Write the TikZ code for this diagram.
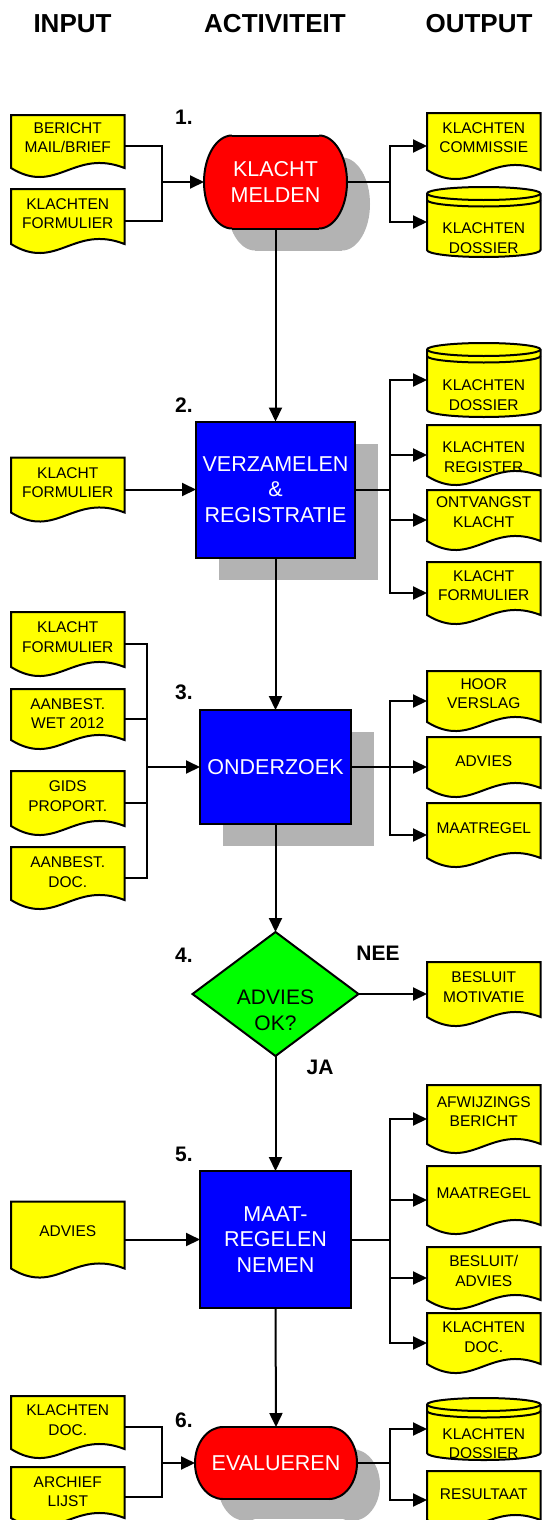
\documentclass[tikz,border=0pt]{standalone}
\usepackage{fontspec}
\setmainfont{Liberation Sans}
\usetikzlibrary{arrows.meta,shapes.geometric,shadows}
\definecolor{docy}{HTML}{FFFF00}
\definecolor{tred}{HTML}{FF0000}
\definecolor{pblue}{HTML}{0000FF}
\definecolor{dgreen}{HTML}{00FF00}
\definecolor{shadowc}{HTML}{B3B3B3}
\tikzset{
 shp/.style={draw=black, line width=2pt, line join=miter},
 cl/.style={draw=black, line width=2pt},
 arr/.style={cl, -{Triangle[length=14pt,width=13pt]}},
 anc/.style={rectangle, inner sep=0pt, outer sep=0pt},
 doctxt/.style={inner sep=0pt, align=center, font=\fontsize{15.5}{19.5}\selectfont},
 acttxt/.style={align=center, font=\fontsize{21.5}{25.5}\selectfont},
 pbox/.style={rectangle, shp, fill=pblue, text=white, acttxt, inner sep=0pt, outer sep=0pt},
 boxshadow/.style={drop shadow={shadow xshift=23pt, shadow yshift=-22pt, fill=shadowc, opacity=1}},
 hdr/.style={font=\fontsize{26}{30}\selectfont\bfseries, inner sep=0pt},
 num/.style={font=\fontsize{21}{25}\selectfont\bfseries, inner sep=0pt, anchor=west},
 lbl/.style={font=\fontsize{21}{25}\selectfont\bfseries, inner sep=0pt},
 term/.style={rounded rectangle, inner sep=0pt, outer sep=0pt},
}
% document shape: name, left x, centre y, height, text dy, text
\newcommand\Doc[6]{%
 \pgfmathsetmacro\dL{#2}%
 \pgfmathsetmacro\dR{#2+113.5}%
 \pgfmathsetmacro\dTop{#3-#4/2}%
 \pgfmathsetmacro\dS{#3+#4/2-9}%
 \pgfmathsetmacro\dA{#2+0.55*113.5}%
 \pgfmathsetmacro\dB{#2+0.4*113.5}%
 \pgfmathsetmacro\dU{\dS-20}%
 \pgfmathsetmacro\dD{\dS+28}%
 \pgfmathsetmacro\dC{#2+56.75}%
 \pgfmathsetmacro\dT{#3+#5}%
 \draw[shp,fill=docy] (\dL,\dTop) -- (\dR,\dTop) -- (\dR,\dS) .. controls (\dA,\dU) and (\dB,\dD) .. (\dL,\dS) -- cycle;
 \node[anc,minimum width=113.5pt,minimum height=#4pt] (#1) at (\dC,#3) {};
 \node[doctxt] (#1t) at (\dC,\dT) {#6};
}
% cylinder: name, left x, top, bottom, text centre y, text
\newcommand\Cyl[6]{%
 \pgfmathsetmacro\cL{#2}%
 \pgfmathsetmacro\cR{#2+113.5}%
 \pgfmathsetmacro\cC{#2+56.75}%
 \pgfmathsetmacro\cA{#3+6.5}%
 \pgfmathsetmacro\cB{#3+13}%
 \pgfmathsetmacro\cE{#4-7}%
 \pgfmathsetmacro\cM{(#3+#4)/2}%
 \pgfmathsetmacro\cH{#4-#3}%
 \fill[docy] (\cL,\cA) arc[start angle=180,end angle=0,x radius=56.75pt,y radius=6.5pt] -- (\cR,\cE) arc[start angle=0,end angle=-180,x radius=56.75pt,y radius=7pt] -- cycle;
 \begin{scope}
  \clip (\cL,\cA) arc[start angle=180,end angle=0,x radius=56.75pt,y radius=6.5pt] -- (\cR,\cE) arc[start angle=0,end angle=-180,x radius=56.75pt,y radius=7pt] -- cycle;
  \node[doctxt] (#1t) at (\cC,#5) {#6};
 \end{scope}
 \draw[shp] (\cL,\cA) arc[start angle=180,end angle=0,x radius=56.75pt,y radius=6.5pt] -- (\cR,\cE) arc[start angle=0,end angle=-180,x radius=56.75pt,y radius=7pt] -- cycle;
 \draw[shp] (\cL,\cA) arc[start angle=180,end angle=360,x radius=56.75pt,y radius=6.5pt];
 \draw[shp] (\cL,\cB) arc[start angle=180,end angle=360,x radius=56.75pt,y radius=6.5pt];
 \node[anc,minimum width=113.5pt,minimum height=\cH pt] (#1) at (\cC,\cM) {};
}
% terminal: name, cx, cy, w, h, text
\newcommand\Term[6]{%
 \pgfmathsetmacro\tL{#2-#4/2+28}%
 \pgfmathsetmacro\tR{#2+#4/2-28}%
 \pgfmathsetmacro\tT{#3-#5/2}%
 \pgfmathsetmacro\tBt{#3+#5/2}%
 \pgfmathsetmacro\tY{#3}%
 \pgfmathsetmacro\sL{#2-#4/2+28+23}%
 \pgfmathsetmacro\sR{#2+#4/2-28+23}%
 \pgfmathsetmacro\sT{#3-#5/2+22}%
 \pgfmathsetmacro\sBt{min(#3+#5/2+22,1519)}%
 \pgfmathsetmacro\sY{#3+22}%
 \pgfmathsetmacro\tRy{#5/2}%
 \begin{scope}
 \clip (0,0) rectangle (541,1519);
 \fill[shadowc] (\sL,\sT) rectangle (\sR,\sBt);
 \fill[shadowc] (\sL,\sY) ellipse [x radius=28pt, y radius=\tRy pt];
 \fill[shadowc] (\sR,\sY) ellipse [x radius=28pt, y radius=\tRy pt];
 \end{scope}
 \fill[tred] (\tL,\tT) rectangle (\tR,\tBt);
 \fill[tred] (\tL,\tY) ellipse [x radius=28pt, y radius=\tRy pt];
 \fill[tred] (\tR,\tY) ellipse [x radius=28pt, y radius=\tRy pt];
 \draw[shp] (\tL,\tT) -- (\tR,\tT);
 \draw[shp] (\tL,\tBt) -- (\tR,\tBt);
 \draw[shp] (\tR,\tT) arc[start angle=90,end angle=-90,x radius=28pt,y radius=\tRy pt];
 \draw[shp] (\tL,\tT) arc[start angle=90,end angle=270,x radius=28pt,y radius=\tRy pt];
 \node[anc,acttxt,text=white,minimum width=#4pt,minimum height=#5pt] (#1) at (#2,#3) {#6};
}
\begin{document}
\begin{tikzpicture}[x=1pt,y=-1pt]
\useasboundingbox (0,0) rectangle (541,1520);
\fill[white] (0,0) rectangle (541,1520);

% headers
\node[hdr] (h1) at (72.5,24) {INPUT};
\node[hdr] (h2) at (275,24) {ACTIVITEIT};
\node[hdr] (h3) at (479,24) {OUTPUT};

% step numbers and labels
\node[num] (n1) at (175,117.5) {1.};
\node[num] (n2) at (175,405.5) {2.};
\node[num] (n3) at (175,692) {3.};
\node[num] (n4) at (175,955) {4.};
\node[num] (n5) at (175,1154) {5.};
\node[num] (n6) at (175,1420) {6.};
\node[lbl] (nee) at (378,953) {NEE};
\node[lbl] (ja) at (320,1067) {JA};

% activities
\Term{r1}{275.5}{182}{143}{93}{KLACHT\\MELDEN}
\node[pbox, boxshadow, minimum width=159pt, minimum height=136pt] (b2) at (275.5,489.5) {VERZAMELEN\\\&\\REGISTRATIE};
\node[pbox, boxshadow, minimum width=151pt, minimum height=114pt] (b3) at (275.5,767) {ONDERZOEK};
\node[diamond, shp, fill=dgreen, minimum width=166pt, minimum height=124pt, inner sep=0pt, outer sep=0pt] (d4) at (275.5,994) {};
\node[acttxt, font=\fontsize{21}{26}\selectfont, inner sep=0pt] (d4t) at (275.5,1010) {ADVIES\\OK?};
\node[pbox, minimum width=151pt, minimum height=137pt] (b5) at (275.5,1239.5) {MAAT-\\REGELEN\\NEMEN};
\Term{r6}{276}{1463}{162}{72}{EVALUEREN}

% inputs
\Doc{i1}{11}{146}{62}{-8.5}{BERICHT\\MAIL/BRIEF}
\Doc{i2}{11}{221}{64}{-7.5}{KLACHTEN\\FORMULIER}
\Doc{i3}{11}{489.5}{64}{-7}{KLACHT\\FORMULIER}
\Doc{i4}{11}{644}{64}{-7}{KLACHT\\FORMULIER}
\Doc{i5}{11}{719}{60}{-5.5}{AANBEST.\\WET 2012}
\Doc{i6}{11}{803}{64}{-7}{GIDS\\PROPORT.}
\Doc{i7}{11}{878}{62}{-6}{AANBEST.\\DOC.}
\Doc{i8}{11}{1239.5}{76}{-8}{ADVIES}
\Doc{i9}{11}{1427}{62}{-7}{KLACHTEN\\DOC.}
\Doc{i10}{11}{1497}{60}{-5.5}{ARCHIEF\\LIJST}

% outputs
\Doc{o1}{427}{146}{66}{-8.5}{KLACHTEN\\COMMISSIE}
\Cyl{o2}{427}{187}{257}{238}{KLACHTEN\\DOSSIER}
\Cyl{o3}{427}{343}{417}{395}{KLACHTEN\\DOSSIER}
\Doc{o4}{427}{455}{60}{2}{KLACHTEN\\REGISTER}
\Doc{o5}{427}{520}{60}{-8}{ONTVANGST\\KLACHT}
\Doc{o6}{427}{593}{62}{-7.5}{KLACHT\\FORMULIER}
\Doc{o7}{427}{701}{60}{-7.5}{HOOR\\VERSLAG}
\Doc{o8}{427}{767}{60}{-6}{ADVIES}
\Doc{o9}{427}{835}{64}{-7}{MAATREGEL}
\Doc{o10}{427}{994}{64}{-7}{BESLUIT\\MOTIVATIE}
\Doc{o11}{427}{1119}{68}{-7.5}{AFWIJZINGS\\BERICHT}
\Doc{o12}{427}{1200}{68}{-7}{MAATREGEL}
\Doc{o13}{427}{1278}{62}{-7}{BESLUIT/\\ADVIES}
\Doc{o14}{427}{1343}{60}{-6}{KLACHTEN\\DOC.}
\Cyl{o15}{427}{1398}{1460}{1443.5}{KLACHTEN\\DOSSIER}
\Doc{o16}{427}{1500}{58}{-6}{RESULTAAT}

% junctions
\coordinate (j1i) at (162,182);
\coordinate (j1o) at (389.5,182);
\coordinate (j2o) at (389.5,489.5);
\coordinate (j3i) at (147,767);
\coordinate (j3o) at (389.5,767);
\coordinate (j5o) at (389.5,1239.5);
\coordinate (j6i) at (162,1463);
\coordinate (j6o) at (389.5,1463);

% main flow
\draw[arr] (r1.south) -- (b2.north);
\draw[arr] (b2.south) -- (b3.north);
\draw[arr] (b3.south) -- (d4.north);
\draw[arr] (d4.south) -- (b5.north);
\draw[arr] (b5.south) -- (r6.north);

% step 1
\draw[cl] (i1.east) -| (j1i);
\draw[cl] (i2.east) -| (j1i);
\draw[arr] (j1i) -- (r1.west);
\draw[cl] (r1.east) -- (j1o);
\draw[arr] (j1o) |- (o1.west);
\draw[arr] (j1o) |- (o2.west);

% step 2
\draw[arr] (i3.east) -- (b2.west);
\draw[cl] (b2.east) -- (j2o);
\draw[arr] (j2o) |- (o3.west);
\draw[arr] (j2o) |- (o4.west);
\draw[arr] (j2o) |- (o5.west);
\draw[arr] (j2o) |- (o6.west);

% step 3
\draw[cl] (i4.east) -| (j3i);
\draw[cl] (i5.east) -| (j3i);
\draw[cl] (i6.east) -| (j3i);
\draw[cl] (i7.east) -| (j3i);
\draw[arr] (j3i) -- (b3.west);
\draw[cl] (b3.east) -- (j3o);
\draw[arr] (j3o) |- (o7.west);
\draw[arr] (j3o) -- (o8.west);
\draw[arr] (j3o) |- (o9.west);

% step 4
\draw[arr] (d4.east) -- (o10.west);

% step 5
\draw[arr] (i8.east) -- (b5.west);
\draw[cl] (b5.east) -- (j5o);
\draw[arr] (j5o) |- (o11.west);
\draw[arr] (j5o) |- (o12.west);
\draw[arr] (j5o) |- (o13.west);
\draw[arr] (j5o) |- (o14.west);

% step 6
\draw[cl] (i9.east) -| (j6i);
\draw[cl] (i10.east) -| (j6i);
\draw[arr] (j6i) -- (r6.west);
\draw[cl] (r6.east) -- (j6o);
\draw[arr] (j6o) |- (o15.west);
\draw[arr] (j6o) |- (o16.west);
\end{tikzpicture}
\end{document}
